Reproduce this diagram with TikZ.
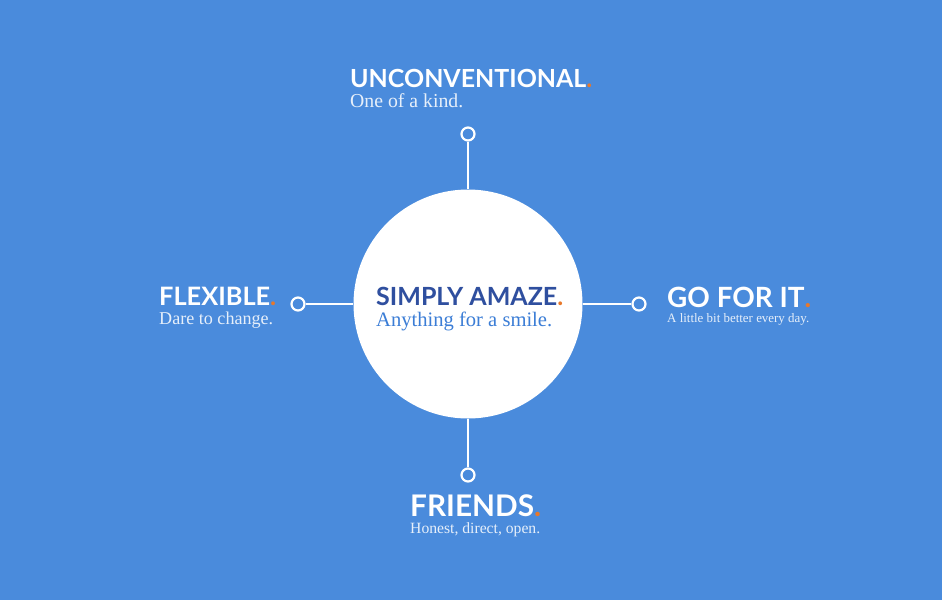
\documentclass[tikz,border=0pt]{standalone}
\usepackage{fontspec}
\usepackage{graphicx}
\newfontfamily\headfont{Lato}
\newfontfamily\subfont{Liberation Serif}
\definecolor{bg}{HTML}{4A8BDC}
\definecolor{dotc}{HTML}{E8782A}
\definecolor{darkb}{HTML}{2F4F9F}
\definecolor{midb}{HTML}{3B7DD6}
\definecolor{subw}{HTML}{E6EFFA}
\newcommand{\headtxt}[2]{\resizebox{#1}{!}{\headfont\bfseries #2\textcolor{dotc}{.}}}
\newcommand{\subtxt}[2]{\resizebox{#1}{!}{\subfont #2}}
\begin{document}
\begin{tikzpicture}[x=1pt,y=-1pt,
  lbl/.style={anchor=base west,inner sep=0pt,text=white},
  sublbl/.style={anchor=base west,inner sep=0pt,text=subw},
  knob/.style={circle,draw=white,line width=2.2pt,fill=bg,minimum size=13pt,inner sep=0pt},
  link/.style={draw=white,line width=2.2pt}]
\fill[bg] (0,0) rectangle (942,600);
\useasboundingbox (0,0) rectangle (942,600);
\node[circle,fill=white,minimum size=229pt,inner sep=0pt] (c) at (468,304) {};
\node[knob] (kt) at (468,134) {};
\node[knob] (kl) at (298,304) {};
\node[knob] (kr) at (639,304) {};
\node[knob] (kb) at (468,475) {};
\draw[link] (kt) -- (c.north);
\draw[link] (kl) -- (c.west);
\draw[link] (kr) -- (c.east);
\draw[link] (kb) -- (c.south);
% top
\node[lbl] (h1) at (350,87) {\headtxt{242pt}{UNCONVENTIONAL}};
\node[sublbl] (s1) at (350,107) {\subtxt{113pt}{One of a kind.}};
% left
\node[lbl] (h2) at (159,305) {\headtxt{117pt}{FLEXIBLE}};
\node[sublbl] (s2) at (159,324) {\subtxt{114pt}{Dare to change.}};
% centre
\node[lbl,text=darkb] (h3) at (376,305) {\headtxt{187pt}{SIMPLY AMAZE}};
\node[lbl,text=midb] (s3) at (376,326) {\subtxt{176pt}{Anything for a smile.}};
% right
\node[lbl] (h4) at (667,307) {\headtxt{144pt}{GO FOR IT}};
\node[sublbl] (s4) at (667,322) {\subtxt{142pt}{A little bit better every day.}};
% bottom
\node[lbl] (h5) at (410,516) {\headtxt{131pt}{FRIENDS}};
\node[sublbl] (s5) at (410,533) {\subtxt{130pt}{Honest, direct, open.}};
\end{tikzpicture}
\end{document}
